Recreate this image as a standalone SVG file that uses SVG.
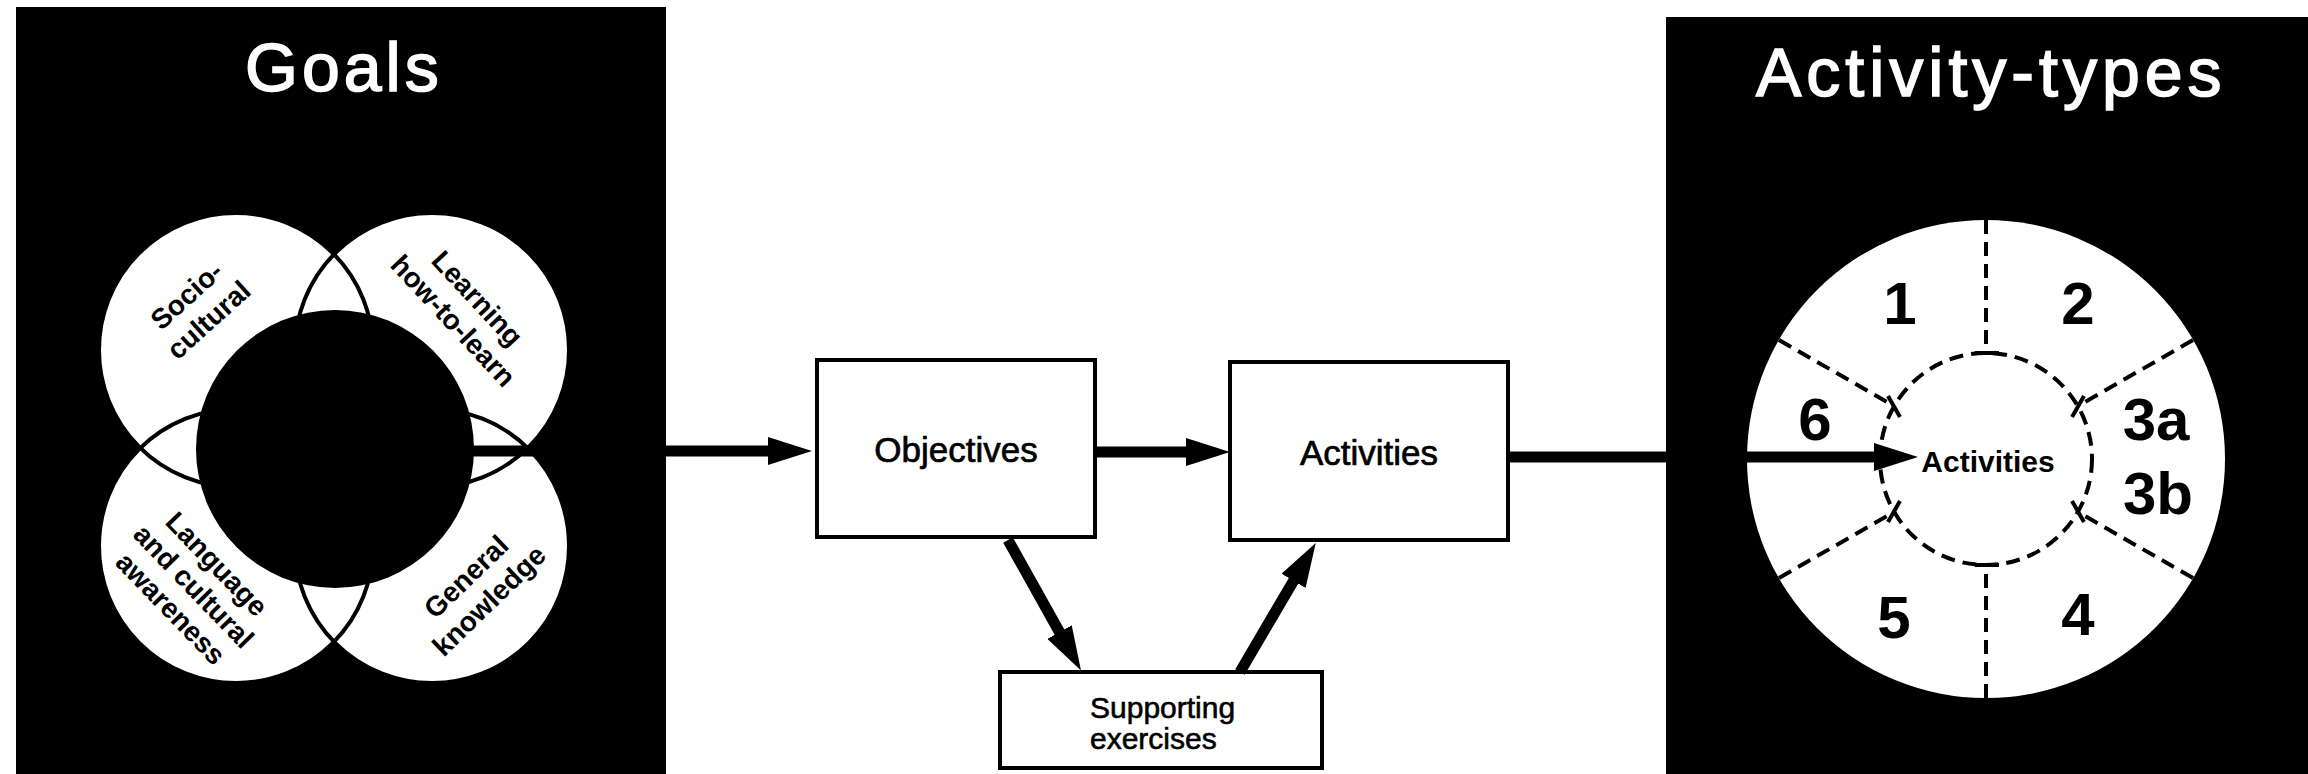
<svg xmlns="http://www.w3.org/2000/svg" width="2308" height="774" viewBox="0 0 2308 774">
  <style>
    .panel { fill: #000; }
    .title { font-family: "Liberation Sans", Arial, Helvetica, sans-serif; font-size: 68px; letter-spacing: 4px; fill: #fff; stroke: #fff; stroke-width: 1.6; }
    .goal-fill { fill: #fff; }
    .goal-edge { fill: none; stroke: #000; stroke-width: 4; }
    .core { fill: #000; }
    .glabel { font-family: "Liberation Sans", Arial, Helvetica, sans-serif; font-weight: bold; font-size: 28px; fill: #000; text-anchor: middle; }
    .box { fill: #fff; stroke: #000; stroke-width: 4; }
    .btext { font-family: "Liberation Sans", Arial, Helvetica, sans-serif; font-size: 35px; fill: #000; stroke: #000; stroke-width: 0.7; text-anchor: middle; }
    .ctext { font-family: "Liberation Sans", Arial, Helvetica, sans-serif; font-weight: bold; font-size: 30px; fill: #000; text-anchor: middle; }
    .stext { font-family: "Liberation Sans", Arial, Helvetica, sans-serif; font-size: 30px; fill: #000; stroke: #000; stroke-width: 0.6; }
    .ring { fill: #fff; }
    .dash { fill: none; stroke: #000; stroke-width: 4; stroke-dasharray: 14 8; }
    .tick { stroke: #000; stroke-width: 4; }
    .num { font-family: "Liberation Sans", Arial, Helvetica, sans-serif; font-weight: bold; font-size: 60px; fill: #000; text-anchor: middle; }
    .conn { fill: none; stroke: #000; stroke-width: 11; }
  </style>
  <defs>
    <marker id="arrow" markerUnits="userSpaceOnUse" markerWidth="44" markerHeight="28" viewBox="0 0 44 28" refX="1" refY="14" orient="auto">
      <path d="M0,0 L44,14 L0,28 Z" fill="#000"/>
    </marker>
  </defs>

  <rect x="0" y="0" width="2308" height="774" fill="#fff"/>

  <!-- Goals: four overlapping goal areas around a dark core -->
  <g id="goals">
    <rect class="panel" x="16" y="7" width="650" height="767"/>
    <text class="title" x="245" y="91">Goals</text>
    <circle class="goal-fill" cx="236" cy="350" r="137"/>
    <circle class="goal-fill" cx="432" cy="350" r="137"/>
    <circle class="goal-fill" cx="236" cy="546" r="137"/>
    <circle class="goal-fill" cx="432" cy="546" r="137"/>
    <circle class="goal-edge" cx="236" cy="350" r="137"/>
    <circle class="goal-edge" cx="432" cy="350" r="137"/>
    <circle class="goal-edge" cx="236" cy="546" r="137"/>
    <circle class="goal-edge" cx="432" cy="546" r="137"/>
    <circle class="core" cx="335" cy="449" r="139"/>
    <g transform="translate(197,307) rotate(-42)">
      <text class="glabel" x="0" y="-6">Socio-</text>
      <text class="glabel" x="0" y="27">cultural</text>
    </g>
    <g transform="translate(466,309) rotate(47)">
      <text class="glabel" x="0" y="-6">Learning</text>
      <text class="glabel" x="0" y="27">how-to-learn</text>
    </g>
    <g transform="translate(194,586) rotate(46)">
      <text class="glabel" x="0" y="-22">Language</text>
      <text class="glabel" x="0" y="10">and cultural</text>
      <text class="glabel" x="0" y="42">awareness</text>
    </g>
    <g transform="translate(477,588) rotate(-44)">
      <text class="glabel" x="0" y="-6">General</text>
      <text class="glabel" x="0" y="27">knowledge</text>
    </g>
  </g>

  <!-- Process boxes -->
  <g id="objectives">
    <rect class="box" x="817" y="360" width="278" height="177"/>
    <text class="btext" x="956" y="462">Objectives</text>
  </g>
  <g id="activities">
    <rect class="box" x="1230" y="362" width="278" height="178"/>
    <text class="btext" x="1369" y="465">Activities</text>
  </g>
  <g id="supporting-exercises">
    <rect class="box" x="1000" y="672" width="322" height="96"/>
    <text class="stext" x="1090" y="718">Supporting</text>
    <text class="stext" x="1090" y="749">exercises</text>
  </g>

  <!-- Activity-types: six sectors around the activities core -->
  <g id="activity-types">
    <rect class="panel" x="1666" y="17" width="642" height="757"/>
    <text class="title" x="1756" y="96" style="letter-spacing:5px">Activity-types</text>
    <circle class="ring" cx="1986" cy="459" r="239"/>
    <circle class="dash" cx="1986" cy="459" r="106"/>
    <line class="dash" x1="1986" y1="220" x2="1986" y2="353"/>
    <line class="dash" x1="1986" y1="698" x2="1986" y2="565"/>
    <line class="dash" x1="2193" y1="340" x2="2078" y2="406"/>
    <line class="dash" x1="2193" y1="578" x2="2078" y2="512"/>
    <line class="dash" x1="1779" y1="340" x2="1894" y2="406"/>
    <line class="dash" x1="1779" y1="578" x2="1894" y2="512"/>
    <line class="tick" x1="1975" y1="353" x2="1999" y2="353"/>
    <line class="tick" x1="1975" y1="565" x2="1999" y2="565"/>
    <line class="tick" x1="2072" y1="417" x2="2084" y2="396"/>
    <line class="tick" x1="2072" y1="501" x2="2084" y2="522"/>
    <line class="tick" x1="1900" y1="417" x2="1888" y2="396"/>
    <line class="tick" x1="1900" y1="501" x2="1888" y2="522"/>
    <text class="num" x="1900" y="324">1</text>
    <text class="num" x="2078" y="324">2</text>
    <text class="num" x="2156" y="440">3a</text>
    <text class="num" x="2158" y="514">3b</text>
    <text class="num" x="2078" y="635">4</text>
    <text class="num" x="1894" y="638">5</text>
    <text class="num" x="1815" y="440">6</text>
    <text class="ctext" x="1988" y="472">Activities</text>
  </g>

  <!-- Connectors -->
  <g id="connectors">
    <line class="conn" x1="470" y1="451" x2="769" y2="451" marker-end="url(#arrow)"/>
    <line class="conn" x1="1097" y1="452" x2="1187" y2="452" marker-end="url(#arrow)"/>
    <line class="conn" stroke-width="10" x1="1008" y1="540" x2="1060" y2="633" marker-end="url(#arrow)"/>
    <line class="conn" stroke-width="10" x1="1240" y1="672" x2="1294" y2="580" marker-end="url(#arrow)"/>
    <line class="conn" stroke-width="10" x1="1510" y1="457" x2="1875" y2="457" marker-end="url(#arrow)"/>
  </g>
</svg>
